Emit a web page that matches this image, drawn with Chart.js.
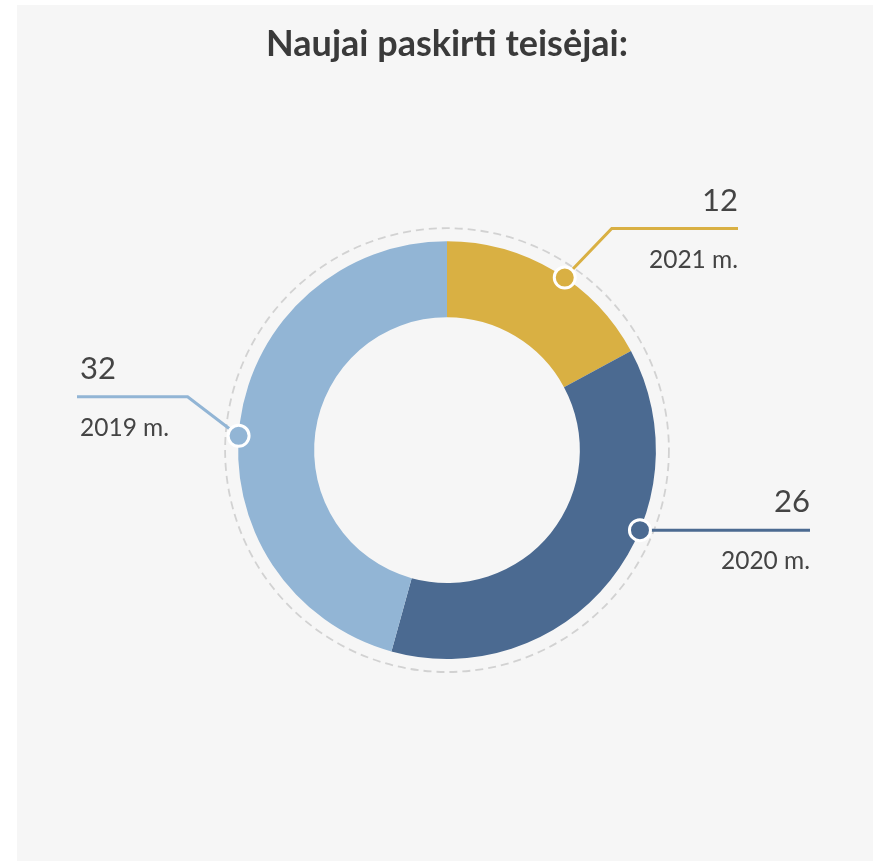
<!DOCTYPE html>
<html>
<head>
<meta charset="utf-8">
<script src="https://cdn.jsdelivr.net/npm/chart.js"></script>
<style>
  html, body { margin: 0; padding: 0; background: #fff; }
  #wrap { width: 877px; height: 861px; }
</style>
</head>
<body>
<div id="wrap"><canvas id="chartTeisejai" width="877" height="861"></canvas></div>
<script>
// duomenys
var labels = ['2021 m.', '2020 m.', '2019 m.']
var values = [12, 26, 32]
var colors = ['#d9b043', '#4b6a91', '#92b5d5']

var ctx = document.getElementById('chartTeisejai')

// kur ant lanko deti taskeli ir kaip vesti linija
var leaders = [
    { frac: 0.556, elbow: [47, -49], endX: 738, align: 'right', textX: 738 },
    { frac: 0.38, elbow: null, endX: 810, align: 'right', textX: 810 },
    { frac: 0.477, elbow: [-51, -39], endX: 77, align: 'left', textX: 80 }
]

var panelBg = {
    id: 'panelBg',
    beforeDraw: function(chart) {
        var c = chart.ctx
        c.save()
        c.fillStyle = '#f6f6f6'
        c.fillRect(17, 5, 856, 856)
        c.restore()
    }
}

var dashedRing = {
    id: 'dashedRing',
    beforeDatasetsDraw: function(chart) {
        var arc = chart.getDatasetMeta(0).data[0]
        if (!arc) return
        var p = arc.getProps(['x', 'y', 'outerRadius'], true)
        var c = chart.ctx
        c.save()
        c.strokeStyle = '#d2d2d2'
        c.lineWidth = 1.8
        c.setLineDash([8, 5])
        c.beginPath()
        c.arc(p.x, p.y, p.outerRadius + 13, 0, Math.PI * 2)
        c.stroke()
        c.restore()
    }
}

var leaderLabels = {
    id: 'leaderLabels',
    afterDatasetsDraw: function(chart) {
        var c = chart.ctx
        var meta = chart.getDatasetMeta(0)
        meta.data.forEach(function(arc, i) {
            var p = arc.getProps(['x', 'y', 'startAngle', 'endAngle', 'outerRadius'], true)
            var cfg = leaders[i]
            var a = p.startAngle + (p.endAngle - p.startAngle) * cfg.frac
            var mx = p.x + Math.cos(a) * p.outerRadius
            var my = p.y + Math.sin(a) * p.outerRadius
            var lineY = my
            c.save()
            c.strokeStyle = colors[i]
            c.lineWidth = 3
            c.beginPath()
            c.moveTo(mx, my)
            if (cfg.elbow) {
                c.lineTo(mx + cfg.elbow[0], my + cfg.elbow[1])
                lineY = my + cfg.elbow[1]
            }
            c.lineTo(cfg.endX, lineY)
            c.stroke()

            // taskelis
            c.beginPath()
            c.arc(mx, my, 10.5, 0, Math.PI * 2)
            c.fillStyle = colors[i]
            c.fill()
            c.strokeStyle = '#ffffff'
            c.lineWidth = 3
            c.stroke()

            // tekstai
            c.fillStyle = '#444444'
            c.textAlign = cfg.align
            c.textBaseline = 'alphabetic'
            c.font = '31px Lato'
            c.fillText(String(chart.data.datasets[0].data[i]), cfg.textX, lineY - 18)
            c.font = '24.5px Lato'
            c.fillText(chart.data.labels[i], cfg.textX, lineY + 39)
            c.restore()
        })
    }
}

var chartTeisejai = new Chart(ctx, {
    type: 'doughnut',
    data: {
        labels: labels,
        datasets: [{
            data: values,
            backgroundColor: colors,
            borderWidth: 0
        }]
    },
    options: {
        responsive: false,
        animation: false,
        events: [],
        cutout: '63.6%',
        layout: {
            padding: { left: 17, right: 0, top: 0, bottom: 202 }
        },
        plugins: {
            legend: { display: false },
            tooltip: { enabled: false },
            title: {
                display: true,
                text: 'Naujai paskirti teisėjai:',
                color: '#3a3a3a',
                font: { family: 'Lato', size: 36, weight: 'bold' },
                padding: { top: 23, bottom: 175 }
            }
        }
    },
    plugins: [panelBg, dashedRing, leaderLabels]
})
</script>
</body>
</html>
